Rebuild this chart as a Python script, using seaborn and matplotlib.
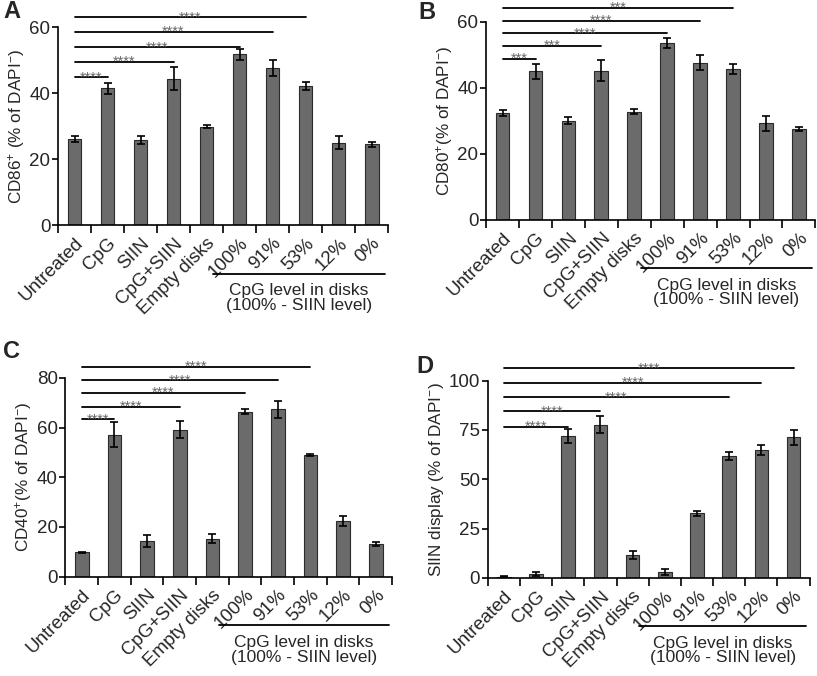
import matplotlib
import numpy as np
import pandas as pd
import seaborn as sns

matplotlib.use("Agg")
import matplotlib.pyplot as plt
import matplotlib.transforms as mtransforms

groups = ["Untreated", "CpG", "SIIN", "CpG+SIIN", "Empty disks",
          "100%", "91%", "53%", "12%", "0%"]

cd86_mean = [26.0, 41.4, 25.8, 44.4, 29.8, 51.7, 47.7, 42.1, 25.0, 24.5]
cd86_err = [0.9, 1.7, 1.3, 3.5, 0.4, 1.6, 2.4, 1.3, 1.9, 0.8]
cd86_sig_to = [1, 3, 5, 6, 7]
cd86_sig_y = [44.8, 49.4, 53.9, 58.5, 63.0]
cd86_sig_txt = ["****", "****", "****", "****", "****"]

cd80_mean = [32.2, 44.9, 30.0, 45.1, 32.7, 53.5, 47.6, 45.6, 29.2, 27.6]
cd80_err = [0.9, 2.2, 1.1, 3.2, 0.8, 1.4, 2.2, 1.5, 2.3, 0.6]
cd80_sig_to = [1, 3, 5, 6, 7]
cd80_sig_y = [48.8, 52.6, 56.5, 60.3, 64.2]
cd80_sig_txt = ["***", "***", "****", "****", "***"]

cd40_mean = [9.8, 57.2, 14.3, 59.2, 15.3, 66.4, 67.4, 48.8, 22.4, 13.0]
cd40_err = [0.2, 4.9, 2.4, 3.3, 1.9, 0.9, 3.4, 0.4, 2.0, 0.8]
cd40_sig_to = [1, 3, 5, 6, 7]
cd40_sig_y = [63.3, 68.4, 73.9, 79.1, 84.5]
cd40_sig_txt = ["****", "****", "****", "****", "****"]

siin_mean = [0.7, 2.0, 72.0, 77.7, 11.6, 3.0, 32.7, 61.7, 64.8, 71.2]
siin_err = [0.3, 1.1, 3.4, 4.4, 2.2, 1.7, 1.3, 1.9, 2.5, 3.9]
siin_sig_to = [2, 3, 7, 8, 9]
siin_sig_y = [76.7, 84.5, 91.6, 99.0, 106.2]
siin_sig_txt = ["****", "****", "****", "****", "****"]

BAR_COLOR = "#6b6b6b"


def draw_panel(ax, means, errs, sig_to, sig_y, sig_txt, ylim, yticks, ylabel):
    df = pd.DataFrame({"group": groups, "value": means})
    sns.barplot(data=df, x="group", y="value", order=groups, color=BAR_COLOR,
                saturation=1, width=0.42, edgecolor="#2b2b2b", linewidth=0.8, ax=ax)
    ax.errorbar(np.arange(len(groups)), means, yerr=errs, fmt="none",
                ecolor="black", elinewidth=1.2, capsize=3.2, capthick=1.2)

    ax.set_xlim(-0.5, len(groups) - 0.5)
    ax.set_ylim(*ylim)
    ax.set_yticks(yticks)
    ax.set_yticklabels([str(t) for t in yticks], fontsize=13.5)
    ax.set_xticks(np.arange(len(groups)))
    ax.set_xticklabels(groups, rotation=45, ha="right", rotation_mode="anchor", fontsize=13.5)
    ax.set_xticks(np.arange(-0.5, len(groups)), minor=True)
    ax.tick_params(axis="x", which="major", bottom=True, length=0, pad=7)
    ax.tick_params(axis="x", which="minor", bottom=True, length=6, width=1.2,
                   direction="out", color="black")
    ax.tick_params(axis="y", left=True, length=4, width=1.2, direction="out",
                   pad=1.5, color="black")
    ax.set_xlabel("")
    ax.set_ylabel(ylabel, fontsize=12.3, labelpad=2)
    for side in ["top", "right"]:
        ax.spines[side].set_visible(False)
    for side in ["left", "bottom"]:
        ax.spines[side].set_linewidth(1.2)
        ax.spines[side].set_color("black")

    # significance bars
    for t, y, s in zip(sig_to, sig_y, sig_txt):
        ax.plot([0, t], [y, y], color="black", lw=1.3, clip_on=False)
        ax.annotate(s, xy=(t / 2, y), xytext=(0, -3), textcoords="offset points",
                    ha="center", va="baseline", fontsize=10.5, color="#666666",
                    annotation_clip=False)

    # bracket for CpG level group
    trans = mtransforms.blended_transform_factory(ax.transData, ax.transAxes)
    ax.plot([4.2, 9.4], [-0.245, -0.245], color="black", lw=1.3,
            transform=trans, clip_on=False)
    ax.text(6.8, -0.33, "CpG level in disks", ha="center", va="center",
            fontsize=12.5, transform=trans)
    ax.text(6.8, -0.405, "(100% - SIIN level)", ha="center", va="center",
            fontsize=12.5, transform=trans)


sns.set_theme(style="ticks")
plt.rcParams["font.family"] = ["Liberation Sans", "DejaVu Sans"]
plt.rcParams["mathtext.fontset"] = "custom"
plt.rcParams["mathtext.rm"] = "Liberation Sans"
plt.rcParams["mathtext.it"] = "Liberation Sans"
plt.rcParams["mathtext.bf"] = "Liberation Sans:bold"

fig = plt.figure(figsize=(8.17, 6.76), dpi=100)
ax_a = fig.add_axes([0.071, 0.667, 0.404, 0.293])
ax_b = fig.add_axes([0.595, 0.675, 0.403, 0.293])
ax_c = fig.add_axes([0.080, 0.147, 0.400, 0.294])
ax_d = fig.add_axes([0.597, 0.145, 0.394, 0.292])

draw_panel(ax_a, cd86_mean, cd86_err, cd86_sig_to, cd86_sig_y, cd86_sig_txt,
           (0, 60), [0, 20, 40, 60], r"CD86$^{+}$ (% of DAPI$^{-}$)")
draw_panel(ax_b, cd80_mean, cd80_err, cd80_sig_to, cd80_sig_y, cd80_sig_txt,
           (0, 60), [0, 20, 40, 60], r"CD80$^{+}$(% of DAPI$^{-}$)")
draw_panel(ax_c, cd40_mean, cd40_err, cd40_sig_to, cd40_sig_y, cd40_sig_txt,
           (0, 80), [0, 20, 40, 60, 80], r"CD40$^{+}$(% of DAPI$^{-}$)")
draw_panel(ax_d, siin_mean, siin_err, siin_sig_to, siin_sig_y, siin_sig_txt,
           (0, 100), [0, 25, 50, 75, 100], r"SIIN display (% of DAPI$^{-}$)")

# panel letters
for letter, (x, y) in zip("ABCD", [(0.004, 0.983), (0.512, 0.981),
                                    (0.004, 0.480), (0.510, 0.458)]):
    fig.text(x, y, letter, fontsize=17, fontweight="bold", ha="left", va="center")

fig.savefig("out.png", dpi=100)
plt.close(fig)
